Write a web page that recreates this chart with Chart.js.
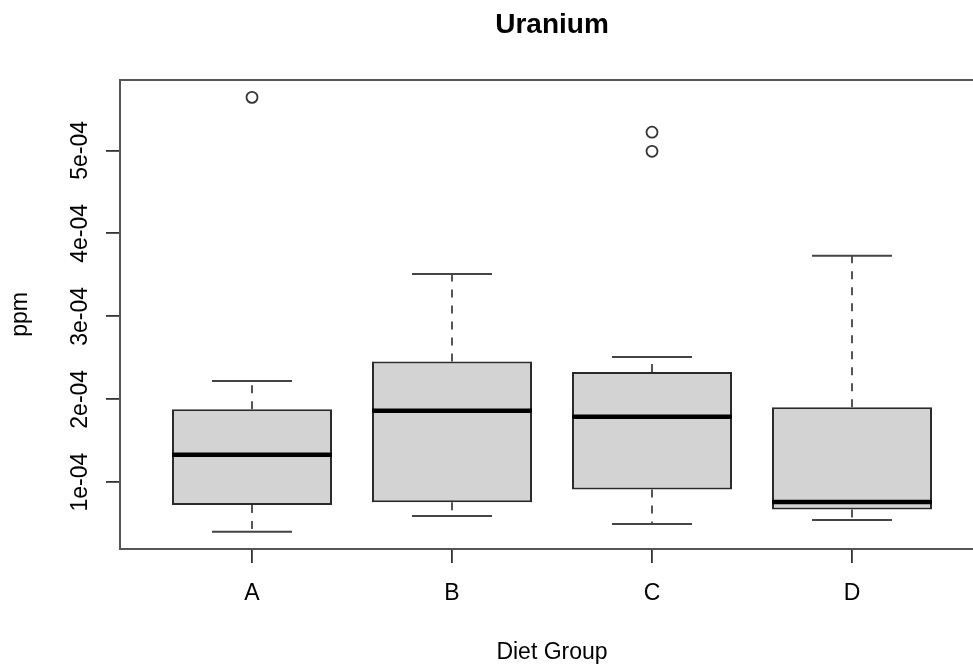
<!DOCTYPE html>
<html>
<head>
<meta charset="utf-8">
<title>Uranium</title>
<script src="https://cdn.jsdelivr.net/npm/chart.js@4/dist/chart.umd.min.js"></script>
<style>
  html, body { margin: 0; padding: 0; overflow: hidden; background: #ffffff; }
  #wrap { position: relative; width: 1000px; height: 669px; }
</style>
</head>
<body>
<div id="wrap"><canvas id="chart"></canvas></div>
<script>
// Uranium concentration (ppm) by diet group: five-number summaries and outliers
const categories   = ['A', 'B', 'C', 'D'];
const lowerWhisker = [4.04e-5, 5.93e-5, 4.97e-5, 5.45e-5];
const lowerHinge   = [7.26e-5, 7.59e-5, 9.11e-5, 6.70e-5];
const medians      = [1.33e-4, 1.86e-4, 1.79e-4, 7.62e-5];
const upperHinge   = [1.88e-4, 2.455e-4, 2.33e-4, 1.905e-4];
const upperWhisker = [2.22e-4, 3.51e-4, 2.51e-4, 3.73e-4];
const outliers     = [[5.64e-4], [], [5.22e-4, 4.99e-4], []];

const yTickValues = [1e-4, 2e-4, 3e-4, 4e-4, 5e-4];
const yTickLabels = ['1e-04', '2e-04', '3e-04', '4e-04', '5e-04'];

const chartTitle = 'Uranium';
const xTitle = 'Diet Group';
const yTitle = 'ppm';

// Axis limits: data range widened by 4% on each side
const allVals = lowerWhisker.concat(upperWhisker, outliers.flat());
const yLo = Math.min(...allVals), yHi = Math.max(...allVals);
const yPad = (yHi - yLo) * 0.04;
const xPad = (categories.length) * 0.04;
const xMin = 0.5 - xPad, xMax = categories.length + 0.5 + xPad;

const BOX_HALF = 0.4;     // half box width in category units
const CAP_HALF = 0.2;     // half staple width

const gap = (x) => ({ x: x, y: null });

const boxData = categories.map((c, i) => ({ x: i + 1, y: [lowerHinge[i], upperHinge[i]] }));

const medianData = medians.flatMap((m, i) => [
  { x: i + 1 - BOX_HALF, y: m }, { x: i + 1 + BOX_HALF, y: m }, gap(i + 1.5)
]);

const whiskerData = categories.flatMap((c, i) => [
  { x: i + 1, y: upperHinge[i] }, { x: i + 1, y: upperWhisker[i] }, gap(i + 1),
  { x: i + 1, y: lowerHinge[i] }, { x: i + 1, y: lowerWhisker[i] }, gap(i + 1)
]);

const capData = categories.flatMap((c, i) => [
  { x: i + 1 - CAP_HALF, y: upperWhisker[i] }, { x: i + 1 + CAP_HALF, y: upperWhisker[i] }, gap(i + 1),
  { x: i + 1 - CAP_HALF, y: lowerWhisker[i] }, { x: i + 1 + CAP_HALF, y: lowerWhisker[i] }, gap(i + 1)
]);

const outlierData = outliers.flatMap((vals, i) => vals.map(v => ({ x: i + 1, y: v })));

const FONT = '"Liberation Sans", Arial, Helvetica, sans-serif';

// Frame and all text, placed through the chart's own scales
const decorations = {
  id: 'decorations',
  afterDraw(chart) {
    const { ctx, chartArea: a, scales: { x, y } } = chart;
    ctx.save();
    // plot frame: its right edge lies past the visible page
    ctx.strokeStyle = '#555555';
    ctx.lineWidth = 2;
    ctx.setLineDash([]);
    ctx.beginPath();
    ctx.moveTo(a.right + 20, a.top);
    ctx.lineTo(a.left, a.top);
    ctx.lineTo(a.left, a.bottom);
    ctx.lineTo(a.right + 20, a.bottom);
    ctx.stroke();

    ctx.fillStyle = '#000000';
    const midX = x.getPixelForValue((xMin + xMax) / 2);

    ctx.font = 'bold 28px ' + FONT;
    ctx.textAlign = 'center';
    ctx.textBaseline = 'alphabetic';
    ctx.fillText(chartTitle, midX, 33);

    ctx.font = '23px ' + FONT;
    categories.forEach((c, i) => {
      ctx.fillText(c, x.getPixelForValue(i + 1), 600);
    });
    ctx.fillText(xTitle, midX, 659);

    yTickValues.forEach((v, i) => {
      ctx.save();
      ctx.translate(87, y.getPixelForValue(v));
      ctx.rotate(-Math.PI / 2);
      ctx.fillText(yTickLabels[i], 0, 0);
      ctx.restore();
    });

    ctx.save();
    ctx.translate(27, (a.top + a.bottom) / 2);
    ctx.rotate(-Math.PI / 2);
    ctx.fillText(yTitle, 0, 0);
    ctx.restore();
    ctx.restore();
  }
};

new Chart(document.getElementById('chart'), {
  type: 'bar',
  data: {
    datasets: [
      {
        type: 'line', label: 'outliers', data: outlierData, showLine: false,
        pointStyle: 'circle', pointRadius: 5.5, pointBorderWidth: 1.8,
        pointBackgroundColor: 'rgba(0,0,0,0)', pointBorderColor: '#333333', order: 0
      },
      {
        type: 'line', label: 'median', data: medianData, spanGaps: false,
        borderColor: '#000000', borderWidth: 4.5, pointRadius: 0, borderCapStyle: 'butt', order: 1
      },
      {
        type: 'line', label: 'staples', data: capData, spanGaps: false,
        borderColor: '#444444', borderWidth: 2, pointRadius: 0, borderCapStyle: 'butt', order: 2
      },
      {
        type: 'line', label: 'whiskers', data: whiskerData, spanGaps: false,
        borderColor: '#555555', borderWidth: 2, borderDash: [8, 8], pointRadius: 0,
        borderCapStyle: 'butt', order: 3
      },
      {
        type: 'bar', label: 'boxes', data: boxData,
        backgroundColor: '#d3d3d3', borderColor: '#2a2a2a', borderWidth: 2,
        borderSkipped: false, barPercentage: 0.8, categoryPercentage: 1.0, order: 4
      }
    ]
  },
  options: {
    responsive: true,
    maintainAspectRatio: false,
    animation: false,
    events: [],
    layout: { padding: { top: 80, right: 16, bottom: 0, left: 0 } },
    plugins: { legend: { display: false }, title: { display: false }, tooltip: { enabled: false } },
    scales: {
      x: {
        type: 'linear', min: xMin, max: xMax, offset: false,
        afterBuildTicks: (s) => { s.ticks = categories.map((c, i) => ({ value: i + 1 })); },
        afterFit: (s) => { s.height = 120; },
        ticks: { display: false },
        border: { display: false },
        grid: { offset: false, drawOnChartArea: false, drawTicks: true, tickLength: 14, color: '#333333', lineWidth: 1.8 }
      },
      y: {
        type: 'linear', min: yLo - yPad, max: yHi + yPad,
        afterBuildTicks: (s) => { s.ticks = yTickValues.map(v => ({ value: v })); },
        afterFit: (s) => { s.width = 120; },
        ticks: { display: false },
        border: { display: false },
        grid: { drawOnChartArea: false, drawTicks: true, tickLength: 14, color: '#333333', lineWidth: 1.8 }
      }
    }
  },
  plugins: [decorations]
});
</script>
</body>
</html>
